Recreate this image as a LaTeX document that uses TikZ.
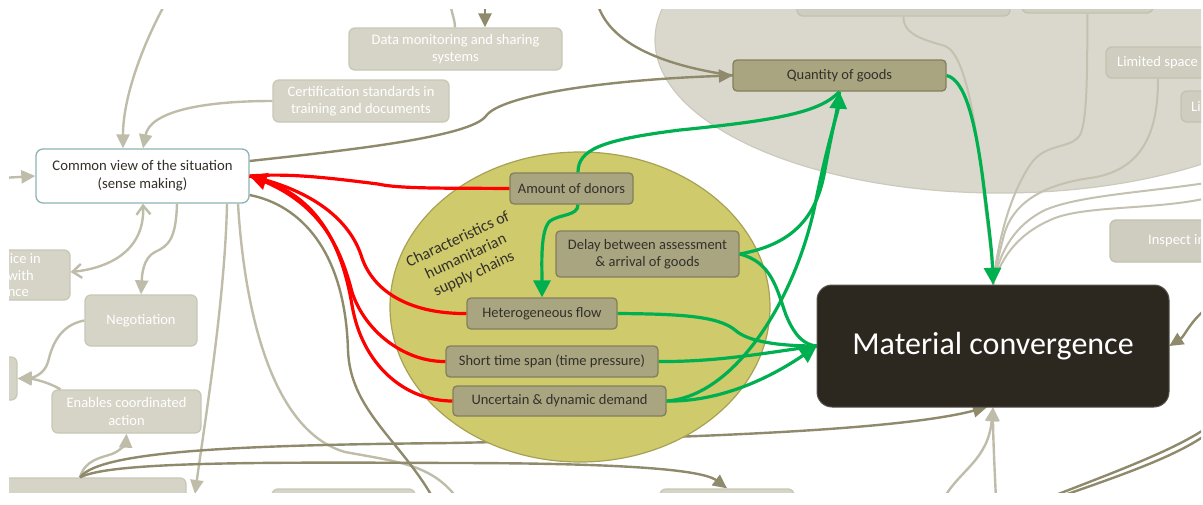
\documentclass[tikz,border=0pt]{standalone}
\usepackage{fontspec}
\setmainfont{Carlito}
\usetikzlibrary{arrows.meta,shapes.geometric}
\definecolor{fadefill}{HTML}{D6D4C7}
\definecolor{fadeborder}{HTML}{C9C7B6}
\definecolor{fadeline}{HTML}{BFBDA9}
\definecolor{oliveline}{HTML}{8E8A6B}
\definecolor{olivefill}{HTML}{A9A581}
\definecolor{oliveborder}{HTML}{837F5A}
\definecolor{cloudfill}{HTML}{DAD8CC}
\definecolor{cloudborder}{HTML}{CCCABB}
\definecolor{innerfill}{HTML}{CFCDBF}
\definecolor{innerline}{HTML}{C3C1AF}
\definecolor{chartfill}{HTML}{CFCA6C}
\definecolor{chartborder}{HTML}{A7A253}
\definecolor{mcfill}{HTML}{2C271F}
\definecolor{cvborder}{HTML}{8DB3B3}
\definecolor{linkred}{HTML}{FF0000}
\definecolor{linkgreen}{HTML}{00B050}
\definecolor{inktext}{HTML}{33302A}

\tikzset{
  smalltext/.style={font=\fontsize{14.5}{17.5}\selectfont},
  fadebox/.style={draw=fadeborder, fill=fadefill, line width=1.3pt, rounded corners=6pt,
    text=white, smalltext, align=center, inner sep=0pt},
  innerbox/.style={fadebox, fill=innerfill, draw=innerline},
  fadetext/.style={text=white, smalltext, inner sep=0pt},
  olivebox/.style={draw=oliveborder, fill=olivefill, line width=1.3pt, rounded corners=4pt,
    text=inktext, smalltext, align=center, inner sep=0pt},
  fadelink/.style={draw=fadeline, line width=2.4pt},
  innerlink/.style={draw=innerline, line width=2pt},
  olivelink/.style={draw=oliveline, line width=2.4pt},
  redlink/.style={draw=linkred, line width=3.2pt},
  greenlink/.style={draw=linkgreen, line width=3.2pt},
  bigtip/.style={-{Triangle[length=17pt,width=17pt]}},
  greytip/.style={-{Triangle[length=14pt,width=13pt]}},
}

\begin{document}
\begin{tikzpicture}[x=1pt,y=-1pt]
\useasboundingbox (0,0) rectangle (1203,504);
\fill[white] (0,0) rectangle (1203,504);
\begin{scope}
\clip (9,9) rectangle (1201,492);

% free ends of connectors that leave the frame
\coordinate (topA) at (165,4);
\coordinate (topB) at (450,2);
\coordinate (topC) at (485,2);
\coordinate (topD) at (597,2);
\coordinate (leftA) at (2,178);
\coordinate (downA) at (195,494);
\coordinate (downB) at (457,498);
\coordinate (downC) at (433,498);
\coordinate (rightA) at (1212,304);
\coordinate (rightB) at (1212,182);
\coordinate (rightC) at (1212,197);
\coordinate (botA) at (996,498);
\coordinate (botB) at (944,498);
\coordinate (botC) at (1048,498);
\coordinate (rightD) at (1212,424);
\coordinate (botD) at (1056,498);
\coordinate (rightE) at (1212,430);

% footprints of boxes that are drawn on top later
\node[minimum width=352pt, minimum height=122pt] (mcpos) at (993,346) {};
\node[minimum width=213pt, minimum height=31pt] (qtypos) at (839.5,75.5) {};

% grey cloud on the upper right
\node[ellipse, draw=cloudborder, fill=cloudfill, line width=1.2pt,
      minimum width=690pt, minimum height=306pt, inner sep=0pt] (cloud) at (1000,40) {};
\node[innerbox, minimum width=213pt, minimum height=40pt] (ba) at (903.5,-4) {};
\node[innerbox, minimum width=131pt, minimum height=40pt] (bb) at (1087.5,-7) {};
\node[innerbox, minimum width=134pt, minimum height=31pt] (ls) at (1173,62.5) {};
\node[fadetext, anchor=west] (lst) at (1117,62.5) {Limited space};
\node[innerbox, minimum width=59pt, minimum height=31pt] (li) at (1210.5,106.5) {};
\node[fadetext, anchor=west] (lit) at (1191,106.5) {Li};

% grey lines running into the top of the material convergence box
\path[innerlink] (ba.south) .. controls (903,35) and (925,40) .. (945,46)
   .. controls (968,55) and (978,140) .. (985,205) .. controls (989,240) and (993,262) .. (mcpos.north);
\path[innerlink] (bb.south) .. controls (1087,60) and (1088,120) .. (1080,135)
   .. controls (1070,150) and (1045,142) .. (1030,165) .. controls (1010,195) and (998,240) .. (mcpos.north);
\path[innerlink] ([xshift=-15pt]ls.south) .. controls (1158,120) and (1150,170) .. (1090,178)
   .. controls (1040,185) and (1012,205) .. (1004,235) .. controls (999,255) and (995,270) .. (mcpos.north);
\path[innerlink] (rightB) .. controls (1150,192) and (1080,195) .. (1045,210)
   .. controls (1015,225) and (1000,250) .. (mcpos.north);
\path[innerlink] (rightC) .. controls (1160,210) and (1090,205) .. (1055,218)
   .. controls (1020,232) and (1002,255) .. (mcpos.north);

% faded boxes
\node[fadebox, minimum width=213pt, minimum height=42pt] (dm) at (455.5,49)
  {Data monitoring and sharing\\systems};
\node[fadebox, minimum width=176pt, minimum height=42pt] (cert) at (361,101)
  {Certification standards in\\training and documents};
\node[fadebox, minimum width=100pt, minimum height=50pt] (ice) at (20,275) {};
\node[fadetext, anchor=east] (icea) at (41,259) {ice in};
\node[fadetext, anchor=east] (iceb) at (34,276) {with};
\node[fadetext, anchor=east] (icec) at (29,293) {nce};
\node[fadebox, minimum width=112pt, minimum height=51pt] (neg) at (141,320.5) {Negotiation};
\node[fadebox, minimum width=50pt, minimum height=43pt] (lb) at (-8,378.5) {};
\node[fadebox, minimum width=149pt, minimum height=43pt] (enab) at (126.5,411.5)
  {Enables coordinated\\action};
\node[fadebox, minimum width=206pt, minimum height=44pt] (b1) at (83,500) {};
\node[fadebox, minimum width=143pt, minimum height=44pt] (b2) at (343.5,511) {};
\node[fadebox, minimum width=134pt, minimum height=44pt] (b3) at (727,511) {};
\node[innerbox, minimum width=130pt, minimum height=42pt] (insp) at (1175,241) {};
\node[fadetext, anchor=west] (inspt) at (1148,241) {Inspect in};

% common view of the situation
\node[draw=cvborder, fill=white, line width=1.3pt, rounded corners=7pt, text=inktext,
      font=\fontsize{14.7}{18}\selectfont, align=center, inner sep=0pt,
      minimum width=213pt, minimum height=54pt] (cv) at (142.5,176)
  {Common view of the situation\\(sense making)};

% faded connectors
\draw[fadelink, greytip] (topA) .. controls (140,50) and (123,100) .. ([xshift=-19.5pt]cv.north);
\draw[fadelink, greytip] (cert.west) .. controls (200,101) and (150,112) .. ([xshift=0.5pt]cv.north);
\draw[fadelink, greytip] (leftA) -- (cv.west);
\draw[fadelink, {Straight Barb[length=9pt,width=14pt]}-{Straight Barb[length=9pt,width=14pt]}]
  ([xshift=0.5pt]cv.south) .. controls (145,250) and (110,268) .. (ice.east |- 0,272);
\draw[fadelink, greytip] ([xshift=34.5pt]cv.south) .. controls (176,240) and (168,246) .. (155,252)
  .. controls (143,258) and (142,275) .. (neg.north);
\draw[fadelink, greytip] (neg.west) .. controls (60,325) and (52,345) .. (48,362)
  .. controls (44,376) and (30,378) .. (lb.east);
\draw[fadelink, greytip] ([xshift=-66pt]enab.north) .. controls (50,383) and (35,379) .. (lb.east);
\draw[fadelink, greytip] ([xshift=-3pt]b1.north) .. controls (85,460) and (100,458) .. (112,454)
  .. controls (122,450) and (126,442) .. (enab.south);
\draw[fadelink, greytip] ([xshift=84.5pt]cv.south) .. controls (225,300) and (205,420) .. (downA);
\draw[fadelink] ([xshift=95.5pt]cv.south) .. controls (245,320) and (275,432) .. (345,452)
  .. controls (400,462) and (432,465) .. (downB);
\draw[fadelink] (topB) .. controls (452,15) and (455,20) .. (dm.north -| 455,0);
\draw[fadelink, greytip] (botB) .. controls (960,470) and (988,460) .. (mcpos.south);
\draw[fadelink, greytip] (botA) .. controls (994,460) and (993,430) .. (mcpos.south);

% olive connectors
\draw[olivelink, greytip] (topC) -- (dm.north -| 485,0);
\draw[olivelink, greytip] ([yshift=15pt]cv.east) .. controls (350,150) and (470,137) .. (486,116)
  .. controls (500,96) and (600,80) .. (qtypos.west);
\draw[olivelink] (topD) .. controls (610,50) and (680,68) .. (qtypos.west);
\draw[olivelink] ([yshift=-19pt]cv.east) .. controls (300,205) and (345,250) .. (348,350)
  .. controls (350,410) and (400,440) .. (downC);
\draw[olivelink, greytip] ([xshift=-3pt]b1.north) .. controls (100,450) and (250,445) .. (450,443)
  .. controls (700,438) and (900,430) .. ([xshift=-6pt]mcpos.south);
\draw[olivelink, greytip] ([xshift=-3pt]b1.north) .. controls (110,462) and (250,462) .. (450,463)
  .. controls (600,463) and (700,468) .. (b3.north);
\draw[olivelink, greytip] (rightA) .. controls (1190,320) and (1185,336) .. (mcpos.east);
\draw[olivelink] (botC) .. controls (1120,470) and (1180,448) .. (rightD);
\draw[olivelink] (botD) .. controls (1125,474) and (1183,454) .. (rightE);

% characteristics of humanitarian supply chains
\node[ellipse, draw=chartborder, fill=chartfill, line width=1.2pt,
      minimum width=380pt, minimum height=310pt, inner sep=0pt] (chars) at (580,307) {};
\node[rotate=25, align=center, text=inktext, font=\fontsize{16}{19}\selectfont] (charst) at (466,257)
  {Characteristics of\\humanitarian\\supply chains};

\node[olivebox, minimum width=213pt, minimum height=31pt] (qty) at (839.5,75.5) {Quantity of goods};
\node[olivebox, minimum width=123pt, minimum height=31pt] (ad) at (571.5,188.5) {Amount of donors};
\node[olivebox, minimum width=183pt, minimum height=46pt] (delay) at (647.5,254)
  {Delay between assessment\\\& arrival of goods};
\node[olivebox, minimum width=150pt, minimum height=31pt] (het) at (542,313.5) {Heterogeneous flow};
\node[olivebox, minimum width=212pt, minimum height=31pt] (sts) at (552,361.5) {Short time span (time pressure)};
\node[olivebox, minimum width=213pt, minimum height=30pt] (ud) at (559.5,401) {Uncertain \& dynamic demand};

% red links into the common view
\draw[redlink] (ad.west) .. controls (450,188) and (400,189) .. (378,184)
  .. controls (330,178) and (290,173) .. (cv.east);
\draw[redlink] (het.west) .. controls (415,314) and (375,295) .. (362,258)
  .. controls (352,225) and (320,192) .. (cv.east);
\draw[redlink] (sts.west) .. controls (405,362) and (365,332) .. (352,292)
  .. controls (341,250) and (322,200) .. (cv.east);
\draw[redlink, bigtip] (ud.west) .. controls (405,401) and (362,365) .. (352,305)
  .. controls (343,252) and (322,200) .. (cv.east);

% green links
\draw[greenlink] ([xshift=6.5pt]ad.north) .. controls (578,150) and (600,140) .. (680,130)
  .. controls (780,120) and (820,112) .. (qty.south);
\draw[greenlink, bigtip] ([xshift=6.5pt]ad.south) .. controls (578,216) and (560,214) .. (550,221)
  .. controls (540,230) and (542,265) .. (het.north);
\draw[greenlink] (delay.east) .. controls (790,245) and (815,220) .. (824,175)
  .. controls (832,130) and (838,110) .. (qty.south);
\draw[greenlink] (delay.east) .. controls (772,262) and (777,290) .. (786,315)
  .. controls (795,337) and (805,345) .. (mcpos.west);
\draw[greenlink] (het.east) .. controls (680,314) and (718,316) .. (735,330)
  .. controls (748,342) and (780,346) .. (mcpos.west);
\draw[greenlink] (sts.east) .. controls (720,362) and (770,352) .. (mcpos.west);
\draw[greenlink, bigtip] (ud.east) .. controls (720,402) and (770,378) .. (mcpos.west);
\draw[greenlink, bigtip] (ud.east) .. controls (735,396) and (795,300) .. (815,205)
  .. controls (828,140) and (838,112) .. (qty.south);
\draw[greenlink, bigtip] (qty.east) .. controls (965,80) and (975,120) .. (983,180)
  .. controls (988,220) and (992,250) .. (mcpos.north);

% material convergence
\node[draw=mcfill!80!white, fill=mcfill, line width=1pt, rounded corners=15pt, text=white,
      font=\fontsize{32}{38}\selectfont, inner sep=0pt,
      minimum width=352pt, minimum height=122pt] (mc) at (993,346) {Material convergence};
\end{scope}
\end{tikzpicture}
\end{document}
